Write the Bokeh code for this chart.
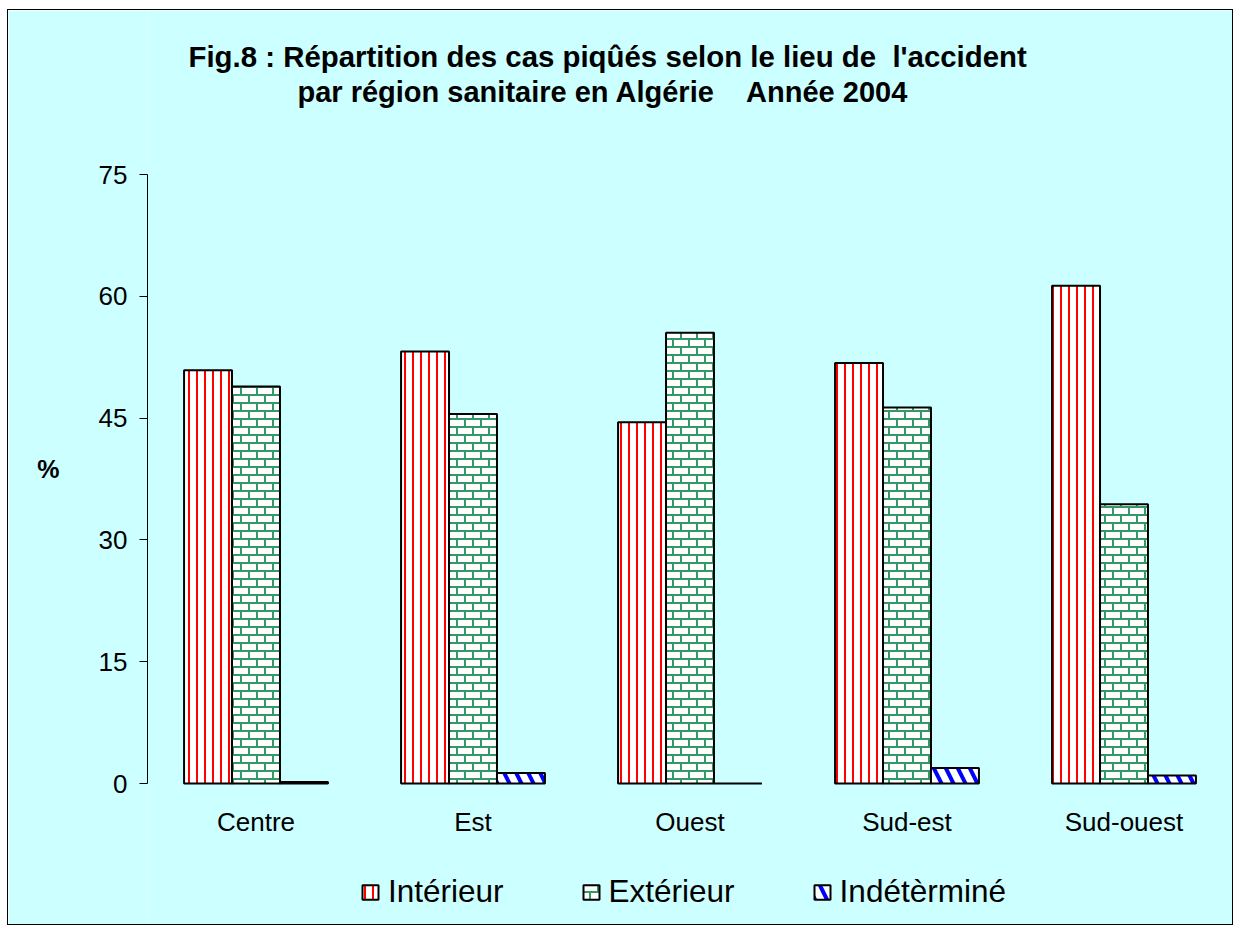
import base64
from bokeh.plotting import figure
from bokeh.models import (FactorRange, Range1d, FixedTicker, Legend, LegendItem,
                          ImageURLTexture, ColumnDataSource, Label)
from bokeh.transform import dodge
from bokeh.embed import file_html
from bokeh.resources import INLINE
from bokeh.core.properties import value

# ---- data ----
categories = ["Centre", "Est", "Ouest", "Sud-est", "Sud-ouest"]
series_names = ["Intérieur", "Extérieur", "Indétèrminé"]
interieur = [50.9, 53.2, 44.5, 51.8, 61.3]
exterieur = [48.9, 45.5, 55.5, 46.3, 34.4]
indetermine = [0.2, 1.3, 0.0, 1.9, 1.0]
y_ticks = [0, 15, 30, 45, 60, 75]
title_line1 = "Fig.8 : Répartition des cas piqûés selon le lieu de \u00a0l'accident"
title_line2 = "par région sanitaire en Algérie \u00a0\u00a0\u00a0Année 2004"
y_label = "%"

FONT = "Liberation Sans"
BG = "#CCFFFF"
GREEN = "#339966"

# the frame covers the whole height of the chart (so that the title, category
# labels and legend drawn inside it are not clipped); the value axis spans 0..75
PX_PER_UNIT = 609 / 75
y_bottom = -143 / PX_PER_UNIT
y_top = 75 + 164 / PX_PER_UNIT

p = figure(x_range=FactorRange(factors=categories, range_padding=0),
           y_range=Range1d(y_bottom, y_top), title=None, x_axis_location=None,
           width=1226, height=916, output_backend="svg", toolbar_location=None,
           min_border_left=139, min_border_right=2, min_border_top=0,
           min_border_bottom=0)
p.styles = {"border": "1px solid black", "margin-left": "7px", "margin-top": "9px"}
p.background_fill_color = BG
p.border_fill_color = BG
p.outline_line_color = None
p.grid.visible = False

src = ColumnDataSource(dict(cat=categories, interieur=interieur,
                            exterieur=exterieur, indetermine=indetermine))

brick_svg = (
    "<svg xmlns='http://www.w3.org/2000/svg' width='16' height='16'>"
    "<rect width='16' height='16' fill='white'/>"
    f"<g fill='{GREEN}'>"
    "<rect x='0' y='0' width='16' height='2'/>"
    "<rect x='0' y='8' width='16' height='2'/>"
    "<rect x='0' y='0' width='2' height='8'/>"
    "<rect x='8' y='8' width='2' height='8'/>"
    "</g></svg>"
)
brick = ImageURLTexture(url="data:image/svg+xml;base64," +
                        base64.b64encode(brick_svg.encode()).decode())

w = 0.221
r1 = p.vbar(x=dodge("cat", -w, range=p.x_range), top="interieur", width=w, source=src,
            fill_color="white", line_color="black", line_width=2,
            hatch_pattern="vertical_line", hatch_color="#FF0000",
            hatch_scale=8, hatch_weight=2)
r2 = p.vbar(x=dodge("cat", 0, range=p.x_range), top="exterieur", width=w, source=src,
            fill_color="white", line_color="black", line_width=2,
            hatch_pattern=value("brick"), hatch_extra={"brick": brick},
            hatch_color=GREEN, hatch_scale=16, hatch_weight=2)
r3 = p.vbar(x=dodge("cat", w, range=p.x_range), top="indetermine", width=w, source=src,
            fill_color="white", line_color="black", line_width=2,
            hatch_pattern="left_diagonal_line", hatch_color="#0000FF",
            hatch_scale=24, hatch_weight=4)

# category labels under the zero line
p.text(x="cat", y=0, text="cat", source=src, y_offset=38,
       text_align="center", text_baseline="middle",
       text_font=value(FONT), text_font_size=value("26px"), text_color="black")

# ---- y axis ----
ya = p.yaxis[0]
ya.bounds = (0, 75)
ya.ticker = FixedTicker(ticks=y_ticks, minor_ticks=[])
ya.major_tick_out = 8
ya.major_tick_in = 0
ya.minor_tick_out = 0
ya.minor_tick_in = 0
ya.axis_line_color = "black"
ya.major_tick_line_color = "black"
ya.major_label_text_font = FONT
ya.major_label_text_font_size = "26px"
ya.major_label_text_color = "black"
ya.major_label_standoff = 12
ya.axis_label = y_label
ya.axis_label_orientation = "horizontal"
ya.axis_label_text_font = FONT
ya.axis_label_text_font_size = "25px"
ya.axis_label_text_font_style = "bold"
ya.axis_label_text_color = "black"
ya.axis_label_standoff = 36

# ---- title ----
p.add_layout(Label(x=41, y=(783 - 56) / PX_PER_UNIT, x_units="screen", text=title_line1,
                   text_align="left", text_baseline="alphabetic", text_font=FONT,
                   text_font_size="29.4px", text_font_style="bold", text_color="black"))
p.add_layout(Label(x=150, y=(783 - 91.5) / PX_PER_UNIT, x_units="screen", text=title_line2,
                   text_align="left", text_baseline="alphabetic", text_font=FONT,
                   text_font_size="29px", text_font_style="bold", text_color="black"))

# ---- legend ----
legend = Legend(items=[LegendItem(label=value(n), renderers=[r])
                       for n, r in zip(series_names, [r1, r2, r3])],
                orientation="horizontal", location=(213, 16),
                glyph_width=20, glyph_height=18, label_standoff=8, spacing=77,
                padding=0, margin=0, border_line_color=None, background_fill_alpha=0,
                label_text_font=FONT, label_text_font_size="31.5px",
                label_text_color="black")
p.add_layout(legend)

open("out.html", "w").write(file_html(p, INLINE))
